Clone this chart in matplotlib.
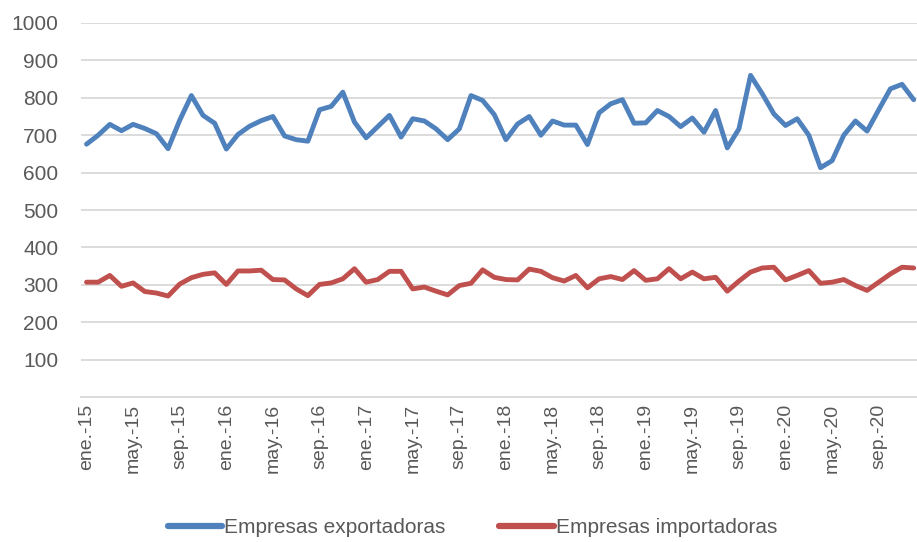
import matplotlib
matplotlib.use("Agg")
import matplotlib.pyplot as plt
import numpy as np

months = ["ene.", "feb.", "mar.", "abr.", "may.", "jun.", "jul.", "ago.", "sep.", "oct.", "nov.", "dic."]
years = ["15", "16", "17", "18", "19", "20"]
categories = [f"{m}-{y}" for y in years for m in months]

exportadoras = [676, 700, 729, 712, 729, 718, 704, 664, 740, 806, 753, 732,
                663, 702, 724, 739, 750, 698, 688, 684, 768, 777, 815, 735,
                693, 723, 753, 695, 744, 738, 717, 688, 717, 806, 793, 755,
                688, 730, 750, 700, 738, 727, 727, 675, 760, 784, 795, 732,
                733, 766, 750, 723, 746, 708, 766, 666, 717, 860, 811, 757,
                726, 744, 700, 613, 632, 700, 738, 711, 768, 824, 836, 795]
importadoras = [307, 307, 325, 296, 305, 282, 278, 270, 302, 319, 328, 332,
                301, 337, 337, 339, 314, 313, 289, 271, 301, 305, 316, 343,
                307, 314, 336, 336, 289, 294, 283, 273, 298, 304, 340, 320,
                314, 313, 342, 336, 319, 310, 325, 292, 316, 322, 314, 338,
                312, 316, 343, 316, 334, 316, 320, 283, 310, 334, 345, 347,
                313, 325, 338, 304, 307, 314, 298, 285, 307, 329, 347, 345]
series_names = ["Empresas exportadoras", "Empresas importadoras"]
y_ticks = [100, 200, 300, 400, 500, 600, 700, 800, 900, 1000]

plt.rcParams['font.family'] = ['Liberation Sans', 'DejaVu Sans']

fig = plt.figure(figsize=(9.17, 5.42), dpi=100)
left = 80.7 / 917
right = 919.5 / 917
bottom = (542 - 397) / 542
top = (542 - 23) / 542
ax = fig.add_axes([left, bottom, right - left, top - bottom])

x = np.arange(len(categories))
ax.plot(x, exportadoras, color="#4F81BD", lw=3.5, label=series_names[0],
        solid_joinstyle="round", solid_capstyle="round")
ax.plot(x, importadoras, color="#C0504D", lw=3.5, label=series_names[1],
        solid_joinstyle="round", solid_capstyle="round")

ax.set_xlim(-0.5, len(categories) - 0.5)
ax.set_ylim(0, 1000)
ax.set_yticks([0] + y_ticks)
ax.set_yticklabels([""] + [str(v) for v in y_ticks])
ax.grid(axis="y", color="#D9D9D9", lw=1.3)
ax.set_axisbelow(True)
for s in ["top", "right", "left"]:
    ax.spines[s].set_visible(False)
ax.spines["bottom"].set_color("#D9D9D9")
ax.spines["bottom"].set_linewidth(1.3)

idx = list(range(0, len(categories), 4))
ax.set_xticks(idx)
ax.set_xticklabels([categories[i] for i in idx], rotation=90, fontsize=14, color="#595959")
ax.tick_params(axis="x", length=0, pad=5)
ax.tick_params(axis="y", length=0, pad=16, labelsize=15, labelcolor="#595959")

leg = fig.legend(loc="lower center", bbox_to_anchor=(0.515, -0.025), ncol=2, frameon=False,
                 fontsize=15, handlelength=2.6, columnspacing=2.6, handletextpad=0.1)
for t in leg.get_texts():
    t.set_color("#595959")
for l in leg.get_lines():
    l.set_linewidth(4.5)

fig.savefig("out.png", dpi=100)
